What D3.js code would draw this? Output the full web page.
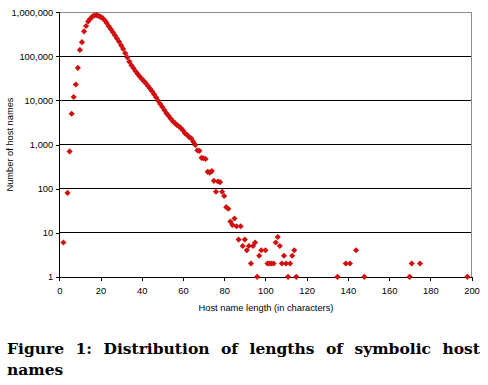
<!DOCTYPE html>
<html><head><meta charset="utf-8">
<script src="https://cdn.jsdelivr.net/npm/d3@7"></script>
<style>body{margin:0;background:#fff}svg{display:block}</style>
</head><body>
<svg id="c" width="488" height="385"></svg>
<script>
const lengths = [2,4,5,6,7,8,9,10,11,12,13,14,15,16,17,18,19,20,21,22,23,24,25,26,27,28,29,30,
  31,32,33,34,35,36,37,38,39,40,41,42,43,44,45,46,47,48,49,50,51,52,53,54,55,56,57,58,59,60,
  61,62,63,64,65,66,67,68,69,70,71,72,73,74,75,76,77,78,79,80,81,82,83,84,85,86,87,88,89,90,
  91,92,93,94,95,96,97,98,100,101,102,103,104,105,106,107,108,109,110,111,112,113,114,115,
  135,139,141,144,148,170,171,175,198];
const counts = [6,80,700,5000,12000,23000,55000,140000,210000,370000,490000,620000,710000,800000,850000,860000,830000,790000,740000,660000,575000,480000,415000,355000,300000,255000,215000,178000,
  148000,118000,95000,76000,63000,54000,46000,40000,35000,31000,27500,24500,21400,18600,16200,13800,11700,9800,8300,7100,6000,5100,4500,3900,3400,3100,2800,2600,2350,2100,
  1800,1650,1480,1380,1150,980,740,720,500,490,470,240,230,250,150,85,145,140,85,68,38,35,18,15,21,14,7,14,5,7,
  4,5,2,5,6,1,3,4,4,2,2,2,2,6,8,5,2,3,2,1,2,3,4,1,
  1,2,2,4,1,1,2,2,1];
const xTicks = [0,20,40,60,80,100,120,140,160,180,200];
const yTicks = [1,10,100,1000,10000,100000,1000000];
const xTitle = "Host name length (in characters)";
const yTitle = "Number of host names";
const captionLines = [["Figure","1:","Distribution","of","lengths","of","symbolic","host"],["names"]];

const svg = d3.select("#c");
const L = 59.3, R = 471.5, T = 12.3, B = 276.8;
const x = d3.scaleLinear().domain([0,200]).range([L,R]);
const y = d3.scaleLog().domain([1,1e6]).range([B,T]);
const sans = "'Liberation Sans', Arial, sans-serif";

// gridlines
svg.append("g").selectAll("line").data(yTicks.filter(d=>d>1)).join("line")
  .attr("x1",L).attr("x2",R).attr("y1",d=>y(d)).attr("y2",d=>y(d))
  .attr("stroke",d=>d===1e6?"#8c8c8c":"#000").attr("stroke-width",1).attr("shape-rendering","crispEdges");
// right border
svg.append("line").attr("x1",R).attr("x2",R).attr("y1",T).attr("y2",B)
  .attr("stroke","#8c8c8c").attr("shape-rendering","crispEdges");

// axes
const yAxis = d3.axisLeft(y).tickValues(yTicks).tickFormat(d3.format(",")).tickSize(3).tickPadding(3);
const gy = svg.append("g").attr("transform",`translate(${L},0)`).call(yAxis);
const xAxis = d3.axisBottom(x).tickValues(xTicks).tickSize(4).tickPadding(7);
const gx = svg.append("g").attr("transform",`translate(0,${B})`).call(xAxis);
[gx,gy].forEach(g=>{
  g.select(".domain").attr("stroke","#000").attr("shape-rendering","crispEdges");
  g.selectAll(".tick line").attr("stroke","#000").attr("shape-rendering","crispEdges");
  g.selectAll("text").attr("font-family",sans).attr("font-size","9.4px").attr("fill","#000");
});
gx.select(".domain").attr("d",`M${L},0.5H${R}`);
gy.select(".domain").attr("d",`M0.5,${B}V${T}`);

// titles
svg.append("text").attr("x",266).attr("y",311).attr("text-anchor","middle")
  .attr("font-family",sans).attr("font-size","9.3px").text(xTitle);
svg.append("text").attr("transform",`translate(13,${(T+B)/2}) rotate(-90)`).attr("text-anchor","middle")
  .attr("font-family",sans).attr("font-size","9.3px").text(yTitle);

// points
const data = lengths.map((l,i)=>({l, c:counts[i]}));
const sym = d3.symbol().type(d3.symbolSquare).size(19);
svg.append("g").selectAll("path").data(data).join("path")
  .attr("d",sym).attr("fill","#d01010")
  .attr("transform",d=>`translate(${x(d.l)},${y(d.c)}) rotate(45)`);

// caption (justified first line)
const capFont = "'DejaVu Serif', serif";
const capX0 = 7, capX1 = 480, baselines = [354, 375];
// pick a font size so the first line fits with ~7px word gaps
const probe = svg.append("text").attr("font-family",capFont).attr("font-weight","bold").attr("font-size","14px")
  .text(captionLines[0].join(""));
const w14 = probe.node().getComputedTextLength(); probe.remove();
const fs = Math.max(12.5, Math.min(15.5, 14 * (capX1-capX0-7*(captionLines[0].length-1)) / w14));
captionLines.forEach((words,li)=>{
  const texts = words.map(w=>svg.append("text").attr("y",baselines[li])
    .attr("font-family",capFont).attr("font-weight","bold").attr("font-size",fs+"px").text(w));
  const widths = texts.map(t=>t.node().getComputedTextLength());
  const total = d3.sum(widths);
  const gap = (li===0 && words.length>1) ? (capX1-capX0-total)/(words.length-1) : 5;
  let cx = capX0;
  texts.forEach((t,i)=>{ t.attr("x",cx); cx += widths[i]+gap; });
});
</script>
</body></html>
